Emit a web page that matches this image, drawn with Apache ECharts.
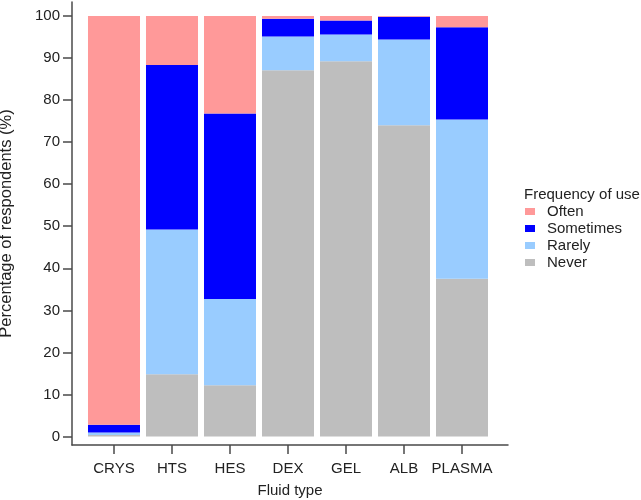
<!DOCTYPE html>
<html>
<head>
<meta charset="utf-8">
<script src="https://cdn.jsdelivr.net/npm/echarts@6/dist/echarts.min.js"></script>
<style>html,body{margin:0;padding:0;background:#fff}#c{width:641px;height:500px}</style>
</head>
<body>
<div id="c"></div>
<script>
var categories = ['CRYS', 'HTS', 'HES', 'DEX', 'GEL', 'ALB', 'PLASMA'];
var never     = [0.4, 14.8, 12.2, 87.1, 89.2, 74.0, 37.5];
var rarely    = [0.6, 34.4, 20.5, 8.0, 6.4, 20.4, 37.9];
var sometimes = [1.8, 39.1, 44.1, 4.2, 3.3, 5.4, 21.9];
var often     = [97.2, 11.7, 23.2, 0.7, 1.1, 0.2, 2.7];
var yTicks = [0, 10, 20, 30, 40, 50, 60, 70, 80, 90, 100];
var yMinorTicks = [5, 15, 25, 35, 45, 55, 65, 75, 85, 95];

var FONT = '"Liberation Sans", Arial, sans-serif';
var AX = '#4a4a4a';
var TXT = '#222';
var catIdx = categories.map(function (c, i) { return i; });
// column 0 = value (y), column 1 = category position (x)
function pts(arr) { return arr.map(function (v, i) { return [v, i]; }); }

var chart = echarts.init(document.getElementById('c'), null, { renderer: 'canvas' });
chart.setOption({
  animation: false,
  backgroundColor: '#fff',
  textStyle: { fontFamily: FONT },
  title: {
    text: 'Frequency of use', left: 519, top: 182,
    textStyle: { fontSize: 15, fontWeight: 'normal', color: TXT, fontFamily: FONT }
  },
  legend: {
    data: ['Often', 'Sometimes', 'Rarely', 'Never'],
    orient: 'vertical', left: 520, top: 199,
    itemWidth: 10, itemHeight: 7, itemGap: 2,
    icon: 'rect',
    textStyle: { fontSize: 15, color: TXT, fontFamily: FONT, padding: [0, 0, 0, 7], lineHeight: 15 }
  },
  grid: { left: 72, top: 2, right: 133, bottom: 55, containLabel: false, outerBoundsMode: 'none' },
  xAxis: {
    type: 'value', min: -0.724, max: 6.793,
    name: 'Fluid type', nameLocation: 'middle', nameGap: 38,
    nameTextStyle: { fontSize: 15, color: TXT, fontFamily: FONT },
    axisLine: { show: true, onZero: false, lineStyle: { color: AX, width: 1.5 } },
    axisTick: { show: true, length: 9, customValues: catIdx, lineStyle: { color: AX, width: 1.5 } },
    axisLabel: {
      customValues: catIdx, margin: 16, fontSize: 15, color: TXT, fontFamily: FONT,
      formatter: function (v) { return categories[Math.round(v)]; }
    },
    splitLine: { show: false }
  },
  yAxis: [{
    type: 'value', min: -2, max: 103.3,
    name: 'Percentage of respondents (%)', nameLocation: 'middle', nameGap: 57,
    nameTextStyle: { fontSize: 16.5, color: TXT, fontFamily: FONT },
    axisLine: { show: true, onZero: false, lineStyle: { color: AX, width: 1.5 } },
    axisTick: { show: true, length: 9, customValues: yTicks, lineStyle: { color: AX, width: 1.5 } },
    axisLabel: { customValues: yTicks, margin: 12, fontSize: 15, color: TXT, fontFamily: FONT },
    splitLine: { show: false }
  }, {
    type: 'value', min: -2, max: 103.3, position: 'left', offset: 0,
    axisLine: { show: false },
    axisTick: { show: true, length: 4, customValues: yMinorTicks, lineStyle: { color: AX, width: 1.5 } },
    axisLabel: { show: false },
    splitLine: { show: false }
  }],
  series: [
    { name: 'Never', type: 'bar', stack: 'total', barWidth: 52, encode: { x: 1, y: 0 }, data: pts(never), itemStyle: { color: '#BEBEBE' } },
    { name: 'Rarely', type: 'bar', stack: 'total', barWidth: 52, encode: { x: 1, y: 0 }, data: pts(rarely), itemStyle: { color: '#99CCFF' } },
    { name: 'Sometimes', type: 'bar', stack: 'total', barWidth: 52, encode: { x: 1, y: 0 }, data: pts(sometimes), itemStyle: { color: '#0000FF' } },
    { name: 'Often', type: 'bar', stack: 'total', barWidth: 52, encode: { x: 1, y: 0 }, data: pts(often), itemStyle: { color: '#FF9999' } }
  ]
});
</script>
</body>
</html>
